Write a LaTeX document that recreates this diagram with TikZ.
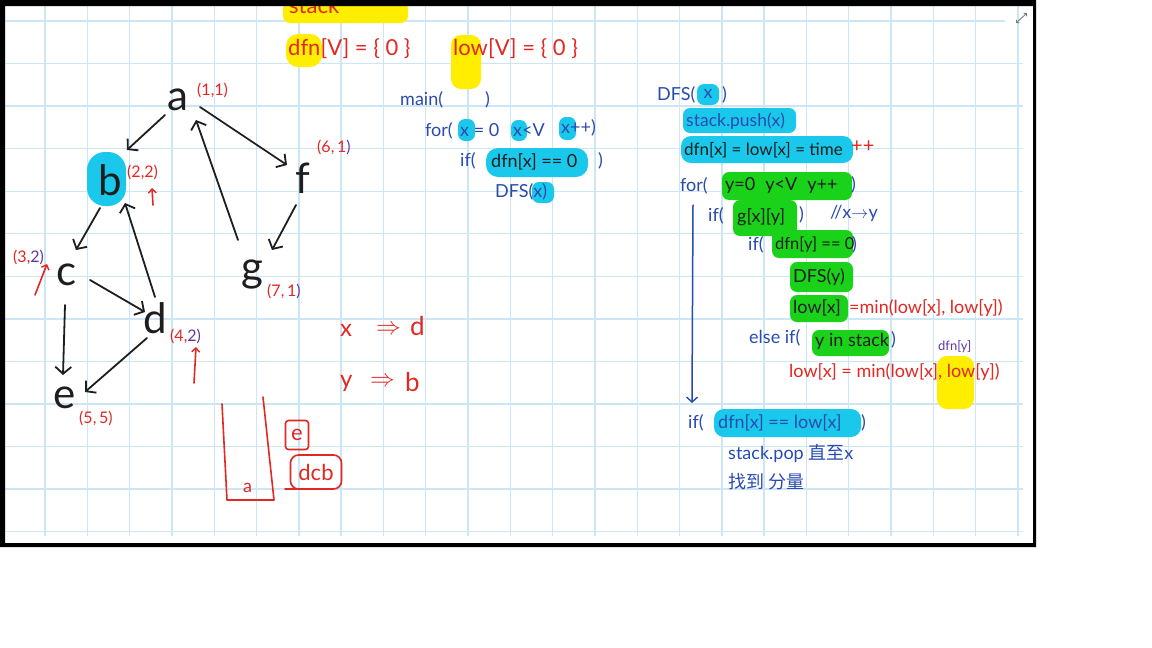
\documentclass[tikz,border=0pt]{standalone}
\usepackage{fontspec}
\setmainfont{Lato}
\newfontfamily\cjk{Noto Sans CJK SC}
\usetikzlibrary{arrows.meta}
\definecolor{gridc}{RGB}{205,230,246}
\definecolor{hlc}{RGB}{25,200,235}
\definecolor{hlg}{RGB}{25,210,25}
\definecolor{hly}{RGB}{255,238,0}
\definecolor{inkr}{RGB}{225,40,35}
\definecolor{inkb}{RGB}{40,75,175}
\definecolor{inkk}{RGB}{30,30,30}
\definecolor{inkp}{RGB}{95,55,165}
\begin{document}
\begin{tikzpicture}[x=1pt,y=-1pt,
  txt/.style={inner sep=0pt, anchor=west, font=\fontsize{#1}{#1}\selectfont},
  txt/.default=18,
  hl/.style={fill=#1, rounded corners=7pt},
  gn/.style={inner sep=0pt, font=\fontsize{42}{42}\selectfont, text=inkk},
  lab/.style={inner sep=0pt, anchor=west, font=\fontsize{16}{16}\selectfont, text=inkr},
  arr/.style={line width=1.8pt, draw=inkk, line cap=round, -{Straight Barb[length=7pt,width=16pt,line width=1.8pt]}},
  rarr/.style={line width=1.6pt, draw=inkr, line cap=round, -{Straight Barb[length=4pt,width=8pt,line width=1.4pt]}},
  redl/.style={line width=1.6pt, draw=inkr, line cap=round, line join=round}]
\useasboundingbox (0,0) rectangle (1152,648);
\fill[white] (0,0) rectangle (1152,648);
% grid
\foreach \k in {0,...,23} \draw[gridc, line width=1.4pt] (45+42.3*\k,6) -- (45+42.3*\k,536);
\draw[gridc, line width=1.4pt] (5,21) -- (1005,21);
\foreach \k in {1,...,12} \draw[gridc, line width=1.4pt] (5,21+42.55*\k) -- (1023,21+42.55*\k);
% expand icon
\draw[gray, line width=0.9pt, {Straight Barb[length=2pt,width=4pt]}-{Straight Barb[length=2pt,width=4pt]}] (1016,23) -- (1027,13);

% ---------- highlights ----------
\fill[hl=hly] (283,2) rectangle (408,23);
\fill[hly, rounded corners=12pt] (286,34) rectangle (322,67);
\fill[hly, rounded corners=10pt] (451,35) rectangle (481,89);
\fill[hl=hlc] (458,119) rectangle (475,141);
\fill[hl=hlc] (511,120) rectangle (527,141);
\fill[hl=hlc] (559,117) rectangle (576,140);
\fill[hlc, rounded corners=12pt] (486,148) rectangle (588,177);
\fill[hl=hlc] (532,182) rectangle (554,203);
\fill[hlc, rounded corners=18pt] (87,152) rectangle (126,206);
% right code highlights
\fill[hl=hlc] (697,84) rectangle (719,105);
\fill[hl=hlc] (683,108) rectangle (796,133);
\fill[hlc, rounded corners=10pt] (681,136) rectangle (853,163);
\fill[hl=hlg] (722,172) rectangle (852,200);
\fill[hl=hlg] (733,200) rectangle (797,236);
\fill[hl=hlg] (772,230) rectangle (853,258);
\fill[hl=hlg] (790,262) rectangle (853,292);
\fill[hl=hlg] (790,295) rectangle (848,322);
\fill[hl=hlg] (812,330) rectangle (889,356);
\fill[hly, rounded corners=10pt] (937,356) rectangle (974,409);
\fill[hlc, rounded corners=10pt] (714,409) rectangle (861,437);

% ---------- top texts ----------
\node[txt=22, inkr] (stk) at (289,5) {stack};
\node[txt=22, inkr] (dfnV) at (288,49) {dfn[V] = \{ 0 \}};
\node[txt=22, inkr] (lowV) at (453,49) {low[V] = \{ 0 \}};

% ---------- main ----------
\node[txt, inkb] (m1) at (400,100) {main(};
\node[txt, inkb] (m1b) at (485,100) {)};
\node[txt, inkb] (m2) at (425,131) {for(};
\node[txt, inkb] (m2a) at (460,130) {x = 0};
\node[txt, inkb] (m2b) at (513,130) {x<V};
\node[txt, inkb] (m2c) at (561,128) {x++)};
\node[txt, inkb] (m3) at (460,161) {if(};
\node[txt, inkk] (m3a) at (491,162) {dfn[x] == 0};
\node[txt, inkb] (m3b) at (598,161) {)};
\node[txt, inkb] (m4) at (495,192) {DFS(x)};

% ---------- graph ----------
\node[gn] (a) at (178,100) {a};
\node[gn] (b) at (110,180) {b};
\node[gn] (c) at (67,275) {c};
\node[gn] (d) at (155,318) {d};
\node[gn] (e) at (65,398) {e};
\node[gn] (f) at (303,178) {f};
\node[gn] (g) at (252,275) {g};
\draw[arr] ([shift={(-13,15)}]a.center) -- ([shift={(17,-30)}]b.center);
\draw[arr] ([shift={(22,7)}]a.center) -- ([shift={(-16,-13)}]f.center);
\draw[arr] ([shift={(-14,-35)}]g.center) -- ([shift={(18,20)}]a.center);
\draw[arr] ([shift={(-7,27)}]f.center) -- ([shift={(20,-25)}]g.center);
\draw[arr] ([shift={(-10,28)}]b.center) -- ([shift={(9,-25)}]c.center);
\draw[arr] ([shift={(0,-21)}]d.center) -- ([shift={(15,23)}]b.center);
\draw[arr] ([shift={(23,5)}]c.center) -- ([shift={(-10,-6)}]d.center);
\draw[arr] ([shift={(-2,30)}]c.center) -- ([shift={(-2,-23)}]e.center);
\draw[arr] ([shift={(-8,20)}]d.center) -- ([shift={(20,-6)}]e.center);
% labels
\node[lab] (la) at (197,90) {(1,1)};
\node[lab] (lb) at (127,172) {(2,2)};
\node[lab] (lf) at (317,147) {(6,\,1\textcolor{inkp}{)}};
\node[lab] (lc) at (13,257) {(3,\textcolor{inkp}{2)}};
\node[lab] (ld) at (170,336) {(4,\textcolor{inkp}{2)}};
\node[lab] (lg) at (267,291) {(7,\,1\textcolor{inkp}{)}};
\node[lab] (le) at (79,418) {(5,\,5)};
\coordinate (pb0) at (153,205); \coordinate (pb1) at (152,188);
\coordinate (pc0) at (35,295); \coordinate (pc1) at (47,264);
\coordinate (pd0) at (194,383); \coordinate (pd1) at (196,347);
\draw[rarr] (pb0) -- (pb1);
\draw[rarr] (pc0) -- (pc1);
\draw[rarr] (pd0) -- (pd1);

% ---------- x => d, y => b ----------
\node[txt=24, inkr] (xx) at (340,330) {x};
\node[txt=24, inkr] (xa) at (376,330) {$\Rightarrow$};
\node[txt=26, inkr] (xd) at (410,326) {d};
\node[txt=24, inkr] (yy) at (340,383) {y};
\node[txt=24, inkr] (ya) at (370,382) {$\Rightarrow$};
\node[txt=26, inkr] (yb) at (405,382) {b};

% ---------- stack sketch ----------
\coordinate (s1) at (222,404); \coordinate (s2) at (227,500);
\coordinate (s3) at (274,500); \coordinate (s4) at (263,397);
\draw[redl] (s1) -- (s2) -- (s3) -- (s4);
\node[txt=18, inkr] (sa) at (243,488) {a};
\node[draw=inkr, line width=1.6pt, rounded corners=3pt, inner sep=2pt, text=inkr, font=\fontsize{22}{22}\selectfont, minimum width=23pt, minimum height=29pt] (se) at (297,435) {e};
\node[draw=inkr, line width=1.6pt, rounded corners=8pt, inner sep=2pt, text=inkr, font=\fontsize{22}{22}\selectfont, minimum width=51pt, minimum height=34pt] (sdcb) at (316,472) {dcb};
\coordinate (st0) at (285,489); \coordinate (st1) at (297,489);
\draw[redl] (st0) -- (st1);

% ---------- DFS ----------
\node[txt, inkb] (r0) at (657,95) {DFS(};
\node[inner sep=0pt, font=\fontsize{18}{18}\selectfont, text=inkb] (r0x) at (708,94) {x};
\node[txt, inkb] (r0b) at (722,95) {)};
\node[txt=17.5, inkb] (r1) at (686,121) {stack.push(x)};
\node[txt=17, inkk] (r2) at (684,150) {dfn[x] = low[x] = time};
\node[txt=20, inkr] (r2p) at (851,147) {++};
\node[txt, inkb] (r3) at (680,186) {for(};
\node[txt, inkk] (r3a) at (725,186) {y=0\hspace{10pt}y<V\hspace{10pt}y++};
\node[txt, inkb] (r3b) at (851,185) {)};
\node[txt, inkb] (r4) at (708,216) {if(};
\node[txt, inkk] (r4a) at (737,217) {g[x][y]};
\node[txt, inkb] (r4b) at (799,215) {)};
\node[txt, inkb] (r4c) at (830,213) {//x$\rightarrow$y};
\node[txt, inkb] (r5) at (748,245) {if(};
\node[txt=16.5, inkk] (r5a) at (775,245) {dfn[y] == 0};
\node[txt, inkb] (r5b) at (852,245) {)};
\node[txt, inkk] (r6) at (793,277) {DFS(y)};
\node[txt, inkk] (r7) at (793,308) {low[x]};
\node[txt, inkr] (r7a) at (849,308) {=min(low[x], low[y])};
\node[txt, inkb] (r8) at (749,338) {else if(};
\node[txt, inkk] (r8a) at (815,341) {y in stack};
\node[txt, inkb] (r8b) at (891,340) {)};
\node[txt=13, inkp] (r9a) at (938,347) {dfn[y]};
\node[txt, inkr] (r9) at (789,372) {low[x] = min(low[x], low[y])};
\coordinate (v0) at (693,205); \coordinate (v1) at (692,403);
\draw[line width=1.5pt, inkb, line cap=round, -{Straight Barb[length=5pt,width=11pt,line width=1.4pt]}] (v0) -- (v1);
\node[txt, inkb] (r10) at (688,423) {if(};
\node[txt, inkb] (r10a) at (718,423) {dfn[x] == low[x]};
\node[txt, inkb] (r10b) at (861,423) {)};
\node[txt, inkb] (r11) at (728,453) {stack.pop {\cjk 直至}x};
\node[txt, inkb] (r12) at (728,482) {\cjk 找到 分量};

% frame
\fill[black, even odd rule] (0,0) rectangle (1036,547) (5,6) rectangle (1033,543);
\end{tikzpicture}
\end{document}
